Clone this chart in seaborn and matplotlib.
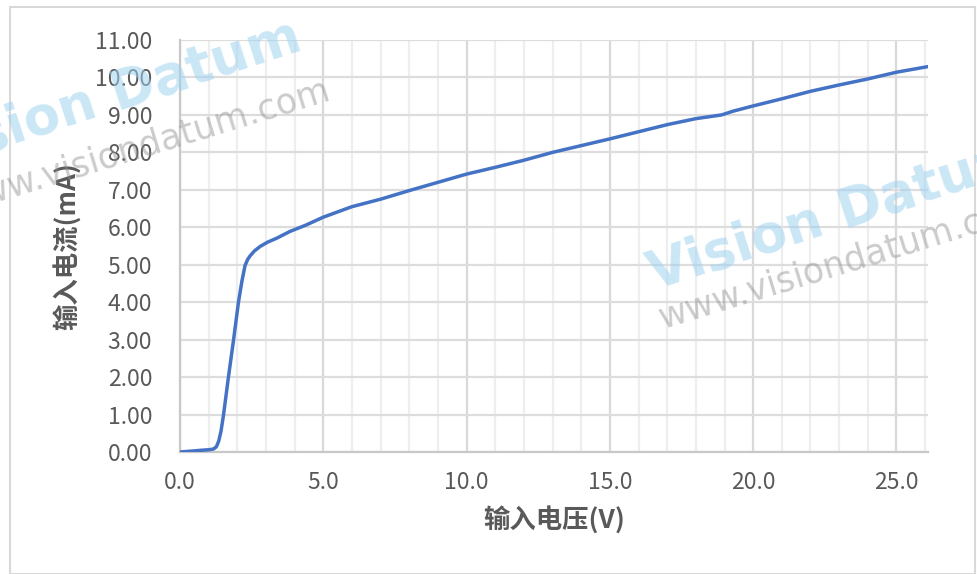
import matplotlib
matplotlib.use("Agg")
import matplotlib.pyplot as plt
import seaborn as sns
import pandas as pd
from matplotlib.patches import Rectangle
from matplotlib.ticker import MultipleLocator, FormatStrFormatter

voltage = [0, 0.5, 0.8, 1.0, 1.17, 1.27, 1.35, 1.43, 1.52, 1.69, 1.87, 2.04, 2.16, 2.27, 2.36,
           2.45, 2.6, 2.8, 3.05, 3.38, 3.84, 4.4, 5.0, 6.0, 7.0, 8.0, 9.0, 10.0, 11.0, 12.0,
           13.0, 14.0, 15.0, 16.0, 17.0, 18.0, 18.9, 19.3, 20.0, 21.0, 22.0, 23.0, 24.0, 25.0, 26.1]
current = [0.00, 0.03, 0.05, 0.06, 0.08, 0.14, 0.29, 0.55, 1.00, 2.00, 3.00, 4.00, 4.56, 4.98, 5.14,
           5.24, 5.37, 5.49, 5.60, 5.71, 5.89, 6.06, 6.27, 6.55, 6.75, 6.98, 7.20, 7.42, 7.60, 7.79,
           8.00, 8.18, 8.36, 8.55, 8.74, 8.90, 9.00, 9.10, 9.24, 9.43, 9.63, 9.80, 9.96, 10.14, 10.29]

x_label = "输入电压(V)"
y_label = "输入电流(mA)"

sns.set_theme(style="white")
plt.rcParams['font.family'] = ['Noto Sans CJK SC', 'DejaVu Sans']

fig = plt.figure(figsize=(9.77, 5.74), dpi=100)
ax = fig.add_axes([180/977, 1-452/574, (928-180)/977, (452-40)/574])

df = pd.DataFrame({"V": voltage, "I": current})
sns.lineplot(data=df, x="V", y="I", ax=ax, color="#4472C4", linewidth=2.5, zorder=5)
for ln in ax.lines:
    ln.set_solid_joinstyle('round')
    ln.set_solid_capstyle('round')

ax.set_xlim(0, 26.1)
ax.set_ylim(0, 11)
ax.xaxis.set_major_locator(MultipleLocator(5))
ax.xaxis.set_minor_locator(MultipleLocator(1))
ax.yaxis.set_major_locator(MultipleLocator(1))
ax.xaxis.set_major_formatter(FormatStrFormatter('%.1f'))
ax.yaxis.set_major_formatter(FormatStrFormatter('%.2f'))

ax.grid(True, which='major', axis='x', color='#D9D9D9', linewidth=1.6)
ax.grid(True, which='minor', axis='x', color='#EEEEEE', linewidth=1.6)
ax.grid(True, which='major', axis='y', color='#DDDDDD', linewidth=1.6)
ax.set_axisbelow(True)

for s in ['top', 'right']:
    ax.spines[s].set_visible(False)
for s in ['left', 'bottom']:
    ax.spines[s].set_color('#C8C8C8')
    ax.spines[s].set_linewidth(1.6)

ax.tick_params(axis='both', which='both', length=0, labelsize=16.5, labelcolor='#595959')
ax.tick_params(axis='y', pad=20)
ax.tick_params(axis='x', pad=14)

ax.set_xlabel(x_label, fontsize=19, fontweight='bold', color='#595959', labelpad=8)
ax.set_ylabel(y_label, fontsize=19, fontweight='bold', color='#595959', labelpad=10)

# outer frame
fig.patches.append(Rectangle((10/977, 0.0), 965/977, 1-7/574, transform=fig.transFigure,
                             fill=False, edgecolor='#D9D9D9', linewidth=1.5))

# watermarks
wm_blue = dict(color='#9FD3F0', alpha=0.55, fontsize=38, fontweight='bold', rotation=18,
               ha='left', va='baseline', family=['DejaVu Sans'])
wm_gray = dict(color='#8C8C8C', alpha=0.45, fontsize=25, rotation=17,
               ha='left', va='baseline', family=['DejaVu Sans'])
fig.text(-85/977, 1-172/574, "Vision Datum", **wm_blue)
fig.text(-50/977, 1-213/574, "www.visiondatum.com", **wm_gray)
fig.text(642/977, 1-290/574, "Vision Datum", **wm_blue)
fig.text(655/977, 1-328/574, "www.visiondatum.com", **wm_gray)

fig.savefig("out.png", dpi=100)
